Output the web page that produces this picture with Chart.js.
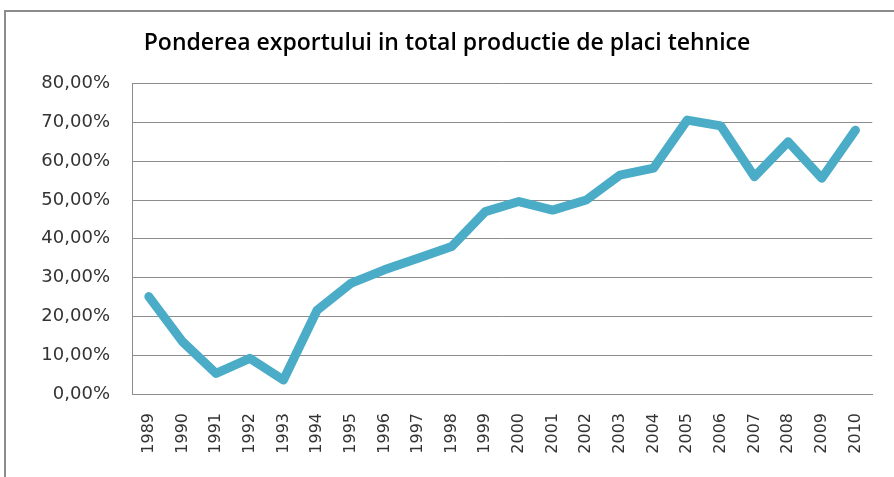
<!DOCTYPE html>
<html>
<head>
<meta charset="utf-8">
<script src="https://cdn.jsdelivr.net/npm/chart.js@4"></script>
<style>
  html, body { margin: 0; padding: 0; background: #fff; overflow: hidden; }
</style>
</head>
<body>
<canvas id="myChart" width="894" height="477"></canvas>
<script>
(function () {
    'use strict'

    var years = ['1989', '1990', '1991', '1992', '1993', '1994', '1995', '1996', '1997', '1998', '1999',
        '2000', '2001', '2002', '2003', '2004', '2005', '2006', '2007', '2008', '2009', '2010']
    var share = [25.1, 13.5, 5.3, 9.2, 3.6, 21.6, 28.5, 32.0, 35.0, 38.0, 47.0,
        49.6, 47.4, 50.0, 56.4, 58.2, 70.6, 69.1, 56.0, 65.0, 55.6, 68.0]
    var yTicks = [0, 10, 20, 30, 40, 50, 60, 70, 80]

    // outer chart frame: only left and top edges show in the picture
    var framePlugin = {
        id: 'frame',
        beforeDraw: function (chart) {
            var c = chart.ctx
            c.save()
            c.fillStyle = '#ffffff'
            c.fillRect(0, 0, chart.width, chart.height)
            c.strokeStyle = '#8c8c8c'
            c.lineWidth = 2
            c.beginPath()
            c.moveTo(5, chart.height)
            c.lineTo(5, 11)
            c.lineTo(chart.width, 11)
            c.stroke()
            c.restore()
        }
    }

    var ctx = document.getElementById('myChart')
    // eslint-disable-next-line no-unused-vars
    var myChart = new Chart(ctx, {
        type: 'line',
        data: {
            labels: years,
            datasets: [{
                data: share,
                borderColor: '#4aacc6',
                borderWidth: 9,
                borderCapStyle: 'round',
                borderJoinStyle: 'round',
                pointRadius: 0,
                tension: 0,
                fill: false
            }]
        },
        plugins: [framePlugin],
        options: {
            responsive: false,
            animation: false,
            layout: { padding: { left: 16, right: 16, top: 0, bottom: 0 } },
            plugins: {
                legend: { display: false },
                tooltip: { enabled: false },
                title: {
                    display: true,
                    text: 'Ponderea exportului in total productie de placi tehnice',
                    color: '#000000',
                    font: { family: '"Open Sans"', size: 23, weight: '600' },
                    padding: { top: 30, bottom: 26 }
                }
            },
            scales: {
                x: {
                    offset: true,
                    grid: { display: false, drawTicks: false, offset: false },
                    border: { display: true, color: '#8c8c8c', width: 1 },
                    ticks: {
                        color: '#333333',
                        font: { family: '"DejaVu Sans"', size: 16 },
                        minRotation: 90,
                        maxRotation: 90,
                        padding: 19,
                        autoSkip: false
                    },
                    afterFit: function (s) { s.height = 83 }
                },
                y: {
                    min: 0,
                    max: 80,
                    afterBuildTicks: function (s) {
                        s.ticks = yTicks.map(function (v) { return { value: v } })
                    },
                    grid: { color: '#8c8c8c', lineWidth: 1, drawTicks: false },
                    border: { display: true, color: '#8c8c8c', width: 1 },
                    ticks: {
                        color: '#333333',
                        font: { family: '"DejaVu Sans"', size: 18 },
                        padding: 22,
                        callback: function (v) { return v.toFixed(2).replace('.', ',') + '%' }
                    },
                    afterFit: function (s) { s.width = 116 }
                }
            }
        }
    })
})()
</script>
</body>
</html>
